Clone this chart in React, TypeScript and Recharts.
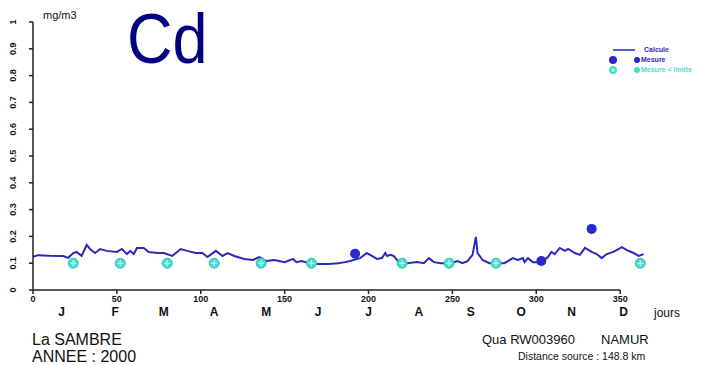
import { ComposedChart, Line, Scatter, XAxis, YAxis, ReferenceLine, ReferenceDot, Legend } from "recharts";

// Calcule (modelled concentration), day of year -> mg/m3
const calcDays = [
  0, 3, 10, 18, 21, 24, 26, 29, 32, 34, 37, 40, 44, 50, 53, 56, 58, 60, 62, 66, 69, 74, 78, 83, 88, 92,
  97, 101, 104, 109, 113, 116, 120, 126, 131, 135, 139, 144, 150, 155, 157, 160, 165, 170, 176, 182, 186,
  189, 195, 199, 202, 205, 208, 210, 211, 213, 215, 218, 223, 229, 233, 236, 239, 243, 249, 253, 256, 259,
  262, 264, 265, 268, 272, 278, 281, 286, 289, 292, 293, 295, 298, 303, 307, 309, 311, 314, 317, 319, 323,
  326, 329, 333, 336, 339, 342, 346, 351, 354, 358, 361, 364,
];
const calcValues = [
  0.124, 0.13, 0.128, 0.127, 0.12, 0.138, 0.142, 0.127, 0.168, 0.153, 0.138, 0.153, 0.146, 0.142, 0.153,
  0.134, 0.146, 0.134, 0.157, 0.157, 0.142, 0.138, 0.138, 0.127, 0.153, 0.146, 0.138, 0.138, 0.123, 0.146,
  0.127, 0.138, 0.127, 0.116, 0.112, 0.123, 0.108, 0.112, 0.104, 0.116, 0.104, 0.108, 0.1, 0.097, 0.097,
  0.1, 0.104, 0.108, 0.119, 0.138, 0.127, 0.116, 0.119, 0.138, 0.127, 0.131, 0.127, 0.104, 0.1, 0.104,
  0.1, 0.119, 0.104, 0.1, 0.1, 0.108, 0.1, 0.108, 0.131, 0.198, 0.138, 0.112, 0.1, 0.1, 0.1, 0.119, 0.112,
  0.119, 0.104, 0.119, 0.104, 0.104, 0.123, 0.142, 0.134, 0.157, 0.146, 0.153, 0.138, 0.131, 0.157, 0.142,
  0.134, 0.119, 0.134, 0.142, 0.16, 0.149, 0.138, 0.127, 0.134,
];

// Mesure
const measureDays = [192, 303, 333];
const measureValues = [0.135, 0.108, 0.228];

// Mesure < limite (plotted at the limit)
const limitDays = [24, 52, 80, 108, 136, 166, 220, 248, 276, 362];
const limitValue = 0.1;

const yTicks = [0, 0.1, 0.2, 0.3, 0.4, 0.5, 0.6, 0.7, 0.8, 0.9, 1];
const xTicks = [0, 50, 100, 150, 200, 250, 300, 350];
const monthDays = [17, 49, 78, 108, 139, 170, 200, 230, 261, 291, 321, 352];
const monthLabels = ["J", "F", "M", "A", "M", "J", "J", "A", "S", "O", "N", "D"];

const calcData = calcDays.map((d, i) => ({ d, v: calcValues[i] }));
const measureData = measureDays.map((d, i) => ({ d, v: measureValues[i] }));
const limitData = limitDays.map((d) => ({ d, v: limitValue }));

const LINE = "#2a2ab8";
const DOT = "#2828cc";
const CYAN = "#4cdacd";
const FONT = '"Liberation Sans", Arial, sans-serif';

function YTick(props: any) {
  const { x, y, payload } = props;
  return (
    <text
      transform={`translate(${x - 14},${y}) rotate(-90)`}
      textAnchor="middle"
      dominantBaseline="central"
      fontSize={9}
      fontWeight="bold"
      fill="#111"
    >
      {String(payload.value)}
    </text>
  );
}

function LimitMark(props: any) {
  const { cx, cy } = props;
  return (
    <g>
      <circle cx={cx} cy={cy} r={5} fill={CYAN} stroke="#2cc4b5" strokeWidth={1} />
      <line x1={cx - 3} x2={cx + 3} y1={cy} y2={cy} stroke="#dffcf8" strokeWidth={1} />
      <line x1={cx} x2={cx} y1={cy - 3} y2={cy + 3} stroke="#dffcf8" strokeWidth={1} />
    </g>
  );
}

function DotMark(props: any) {
  const { cx, cy } = props;
  return <circle cx={cx} cy={cy} r={5} fill={DOT} />;
}

function LegendBox() {
  const txt = { fontSize: 7, fontWeight: "bold" as const, lineHeight: "10px" };
  return (
    <div style={{ fontFamily: FONT }}>
      <div style={{ display: "flex", alignItems: "center", height: 10 }}>
        <svg width={38} height={10}>
          <line x1={7} x2={29} y1={5} y2={5} stroke={LINE} strokeWidth={1.5} />
        </svg>
        <span style={{ ...txt, color: LINE }}>Calcule</span>
      </div>
      <div style={{ display: "flex", alignItems: "center", height: 10 }}>
        <svg width={27} height={10}>
          <circle cx={7} cy={5} r={4} fill={DOT} />
        </svg>
        <svg width={8} height={10}>
          <circle cx={4} cy={5} r={3} fill={DOT} />
        </svg>
        <span style={{ ...txt, color: DOT }}>Mesure</span>
      </div>
      <div style={{ display: "flex", alignItems: "center", height: 10 }}>
        <svg width={27} height={10}>
          <circle cx={7} cy={5} r={4} fill={CYAN} />
          <line x1={5} x2={9} y1={5} y2={5} stroke="#dffcf8" />
          <line x1={7} x2={7} y1={3} y2={7} stroke="#dffcf8" />
        </svg>
        <svg width={8} height={10}>
          <circle cx={4} cy={5} r={3} fill={CYAN} />
        </svg>
        <span style={{ ...txt, color: CYAN }}>Mesure &lt; limite</span>
      </div>
    </div>
  );
}

export default function App() {
  return (
    <div
      style={{
        position: "absolute",
        left: 0,
        top: 0,
        width: 704,
        height: 365,
        background: "#fff",
        fontFamily: FONT,
        overflow: "hidden",
      }}
    >
      <ComposedChart width={704} height={365} margin={{ top: 22, right: 57, left: 0, bottom: 57 }}>
        <XAxis
          dataKey="d"
          type="number"
          domain={[0, 366]}
          allowDataOverflow
          ticks={xTicks}
          height={18}
          axisLine={false}
          tickSize={4}
          tickMargin={2}
          tickLine={{ stroke: "#222", strokeWidth: 1.5 }}
          tick={{ fontSize: 9, fontWeight: "bold", fill: "#111" }}
        />
        <YAxis
          type="number"
          domain={[0, 1]}
          ticks={yTicks}
          width={33}
          tickSize={4}
          axisLine={{ stroke: "#222", strokeWidth: 1.5 }}
          tickLine={{ stroke: "#222", strokeWidth: 1.5 }}
          tick={<YTick />}
        />
        <ReferenceLine
          segment={[
            { x: 0, y: 0 },
            { x: 350, y: 0 },
          ]}
          stroke="#222"
          strokeWidth={1.5}
          ifOverflow="visible"
        />
        {monthDays.map((d, i) => (
          <ReferenceDot
            key={"m" + i}
            x={d}
            y={0}
            r={0}
            fill="none"
            stroke="none"
            ifOverflow="visible"
            label={{
              value: monthLabels[i],
              position: "bottom",
              offset: 17,
              fontSize: 12,
              fontWeight: "bold",
              fill: "#111",
            }}
          />
        ))}
        <Legend
          layout="vertical"
          align="center"
          verticalAlign="middle"
          wrapperStyle={{ position: "absolute", top: 45, left: 606, width: 100 }}
          content={<LegendBox />}
        />
        <Line
          data={calcData}
          dataKey="v"
          name="Calcule"
          type="linear"
          stroke={LINE}
          strokeWidth={2}
          dot={false}
          isAnimationActive={false}
        />
        <Scatter
          data={measureData}
          dataKey="v"
          name="Mesure"
          shape={<DotMark />}
          isAnimationActive={false}
        />
        <Scatter
          data={limitData}
          dataKey="v"
          name="Mesure < limite"
          shape={<LimitMark />}
          isAnimationActive={false}
        />
      </ComposedChart>

      <div
        style={{
          position: "absolute",
          left: 127,
          top: -1,
          fontSize: 70,
          lineHeight: "normal",
          color: "#000080",
          transform: "scaleX(0.9)",
          transformOrigin: "left top",
        }}
      >
        Cd
      </div>
      <div style={{ position: "absolute", left: 43, top: 9, fontSize: 11, lineHeight: "12px", color: "#111" }}>
        mg/m3
      </div>
      <div style={{ position: "absolute", left: 654, top: 306, fontSize: 12, lineHeight: "14px", color: "#111" }}>
        jours
      </div>
      <div style={{ position: "absolute", left: 32, top: 331, fontSize: 16, lineHeight: "17px", color: "#111" }}>
        La SAMBRE
        <br />
        ANNEE : 2000
      </div>
      <div style={{ position: "absolute", left: 482, top: 333, fontSize: 13, lineHeight: "14px", color: "#111" }}>
        Qua RW003960
      </div>
      <div style={{ position: "absolute", left: 601, top: 333, fontSize: 13, lineHeight: "14px", color: "#111" }}>
        NAMUR
      </div>
      <div style={{ position: "absolute", left: 518, top: 350, fontSize: 10.5, lineHeight: "12px", color: "#111" }}>
        Distance source : 148.8 km
      </div>
    </div>
  );
}
